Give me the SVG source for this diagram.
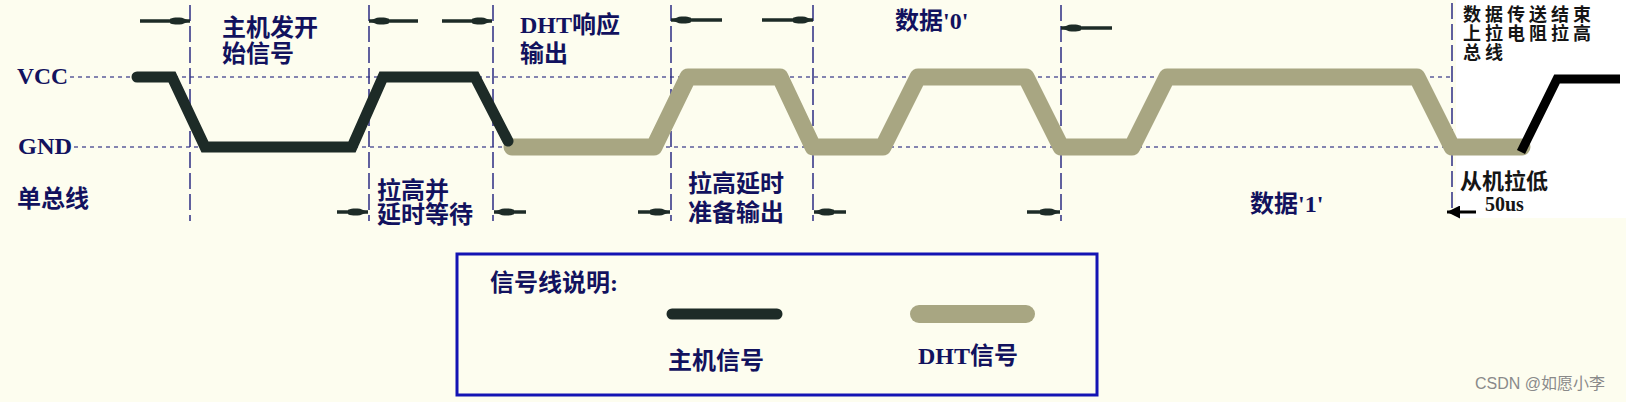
<svg xmlns="http://www.w3.org/2000/svg" width="1626" height="402" viewBox="0 0 1626 402">
<style>
.t{font-family:"Liberation Serif","Noto Sans CJK SC",serif;font-weight:bold;fill:#12125e;font-size:24px}
.k{font-family:"Noto Sans CJK SC",sans-serif;font-weight:bold;fill:#151515}
.h{stroke:#5c5c9c;stroke-width:1.5;stroke-dasharray:4 4;fill:none}
.v{stroke:#2c2c84;stroke-width:1.5;stroke-dasharray:16 5;fill:none}
.master{stroke:#1d2b27;stroke-width:11;fill:none;stroke-linecap:round;stroke-linejoin:miter}
.dht{stroke:#a8a682;stroke-width:17;fill:none;stroke-linecap:round;stroke-linejoin:round}
.arr{stroke:#1d2b27;stroke-width:3.5;fill:none;marker-end:url(#ah)}
</style>
<defs>
<marker id="ah" markerUnits="userSpaceOnUse" viewBox="0 0 20 9" refX="20" refY="4.5" markerWidth="20" markerHeight="9" orient="auto">
<path d="M0,2.2 C4,0.5 8,0.8 12,1.2 L20,4.5 L12,7.8 C8,8.2 4,8.5 0,6.8 Z" fill="#1d2b27"/>
</marker>
<marker id="ah2" markerUnits="userSpaceOnUse" viewBox="0 0 14 14" refX="14" refY="7" markerWidth="14" markerHeight="13" orient="auto">
<path d="M0,0 L14,7 L0,14 Z" fill="#000"/>
</marker>
</defs>
<rect width="1626" height="402" fill="#fdfdef"/>
<rect x="1456" y="0" width="170" height="218" fill="#ffffff"/>

<g id="axes">
<text class="t" x="17" y="84" font-size="22" textLength="51" lengthAdjust="spacingAndGlyphs">VCC</text>
<text class="t" x="18" y="154" font-size="22" textLength="54" lengthAdjust="spacingAndGlyphs">GND</text>
<line class="h" x1="70" y1="77" x2="1452" y2="77"/>
<line class="h" x1="74" y1="147" x2="1485" y2="147"/>
<text class="t" x="17" y="207" font-size="25">单总线</text>
</g>

<g id="connectors">
<line class="v" x1="190" y1="5" x2="190" y2="221"/>
<line class="v" x1="369" y1="5" x2="369" y2="221"/>
<line class="v" x1="493" y1="5" x2="493" y2="221"/>
<line class="v" x1="671" y1="5" x2="671" y2="221"/>
<line class="v" x1="813" y1="5" x2="813" y2="221"/>
<line class="v" x1="1061" y1="5" x2="1061" y2="221"/>
<line class="v" x1="1452" y1="3" x2="1452" y2="212"/>

<path class="arr" d="M140,21 L190,21"/>
<path class="arr" d="M418,21 L369,21"/>
<path class="arr" d="M442,21 L492,21"/>
<path class="arr" d="M722,20 L671,20"/>
<path class="arr" d="M762,20 L813,20"/>
<path class="arr" d="M1112,28 L1061,28"/>
<path class="arr" d="M337,212 L368,212"/>
<path class="arr" d="M526,212 L494,212"/>
<path class="arr" d="M638,212 L670,212"/>
<path class="arr" d="M846,212 L814,212"/>
<path class="arr" d="M1027,212 L1060,212"/>
<path d="M1476,212 L1447,212" stroke="#000" stroke-width="3" marker-end="url(#ah2)"/>
</g>

<g id="dht-signal">
<path class="dht" d="M512,147 L654,147 L688,77 L780,77 L813,147 L883,147 L918,77 L1026,77 L1061,147 L1132,147 L1167,77 L1417,77 L1452,147 L1522,147"/>
</g>
<g id="master-signal">
<path class="master" d="M137,77 L172,77 L205,147 L352,147 L383,77 L475,77 L508,141"/>
<path d="M1521,152 L1557,79 L1620,79" stroke="#000" stroke-width="9" fill="none" stroke-linejoin="miter"/>
</g>

<g id="label-start">
<text class="t" x="222" y="36">主机发开</text>
<text class="t" x="222" y="62">始信号</text>
</g>
<g id="label-wait">
<text class="t" x="377" y="199">拉高并</text>
<text class="t" x="377" y="223">延时等待</text>
</g>
<g id="label-response">
<text class="t" x="520" y="33">DHT响应</text>
<text class="t" x="520" y="62">输出</text>
</g>
<g id="label-prepare">
<text class="t" x="688" y="192">拉高延时</text>
<text class="t" x="688" y="221">准备输出</text>
</g>
<g id="label-data0">
<text class="t" x="895" y="29">数据'0'</text>
</g>
<g id="label-data1">
<text class="t" x="1250" y="212">数据'1'</text>
</g>
<g id="label-end">
<text class="k" font-size="18" letter-spacing="4"><tspan x="1463" y="21">数据传送结束</tspan><tspan x="1463" y="40">上拉电阻拉高</tspan><tspan x="1463" y="59">总线</tspan></text>
</g>
<g id="label-slave">
<text class="k" x="1460" y="189" font-size="22">从机拉低</text>
<text x="1485" y="211" font-family="Liberation Serif, serif" font-weight="bold" font-size="20" fill="#151515">50us</text>
</g>

<g id="legend">
<rect x="457" y="254" width="640" height="141" fill="none" stroke="#1414b4" stroke-width="3"/>
<text class="t" x="490" y="291">信号线说明:</text>
<line x1="672" y1="314" x2="777" y2="314" stroke="#1d2b27" stroke-width="11" stroke-linecap="round"/>
<line x1="919" y1="314" x2="1026" y2="314" stroke="#a8a682" stroke-width="18" stroke-linecap="round"/>
<text class="t" x="668" y="369">主机信号</text>
<text class="t" x="918" y="364">DHT信号</text>
</g>

<text x="1475" y="389" font-family="Liberation Sans, 'Noto Sans CJK SC', sans-serif" font-size="16" fill="#8a8a8a">CSDN @如愿小李</text>
</svg>
